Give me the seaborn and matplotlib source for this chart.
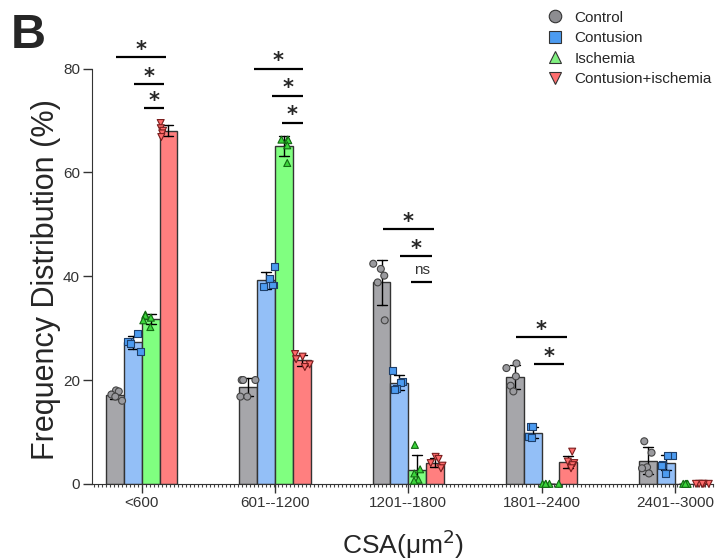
import warnings
import numpy as np
import pandas as pd
import matplotlib.pyplot as plt
from matplotlib.lines import Line2D
from matplotlib.ticker import MultipleLocator
import seaborn as sns

warnings.filterwarnings("ignore")
np.random.seed(3)  # jitter of the dots only

# Categories and groups
csa_bins = ["<600", "601--1200", "1201--1800", "1801--2400", "2401--3000"]
groups = ["Control", "Contusion", "Ischemia", "Contusion+ischemia"]

# Individual animals (n = 5) per bin
control = [
    [18.0, 17.8, 17.2, 16.8, 16.0],
    [20.0, 20.0, 20.0, 16.8, 16.8],
    [42.4, 41.4, 40.1, 38.8, 31.5],
    [23.2, 22.3, 20.7, 18.9, 17.8],
    [8.2, 6.0, 3.2, 3.0, 2.0],
]
contusion = [
    [29.0, 27.5, 27.5, 27.0, 25.5],
    [41.8, 39.5, 38.3, 38.3, 38.0],
    [21.8, 19.8, 19.6, 18.3, 18.1],
    [11.0, 11.0, 9.2, 9.2, 9.0],
    [5.4, 5.4, 3.8, 3.6, 2.0],
]
ischemia = [
    [32.6, 32.4, 32.0, 31.5, 30.2],
    [66.3, 66.3, 66.2, 65.2, 61.8],
    [7.5, 2.8, 2.0, 0.8, 0.6],
    [0.0, 0.0, 0.0, 0.0, 0.0],
    [0.0, 0.0, 0.0, 0.0, 0.0],
]
contusion_ischemia = [
    [69.5, 68.5, 68.0, 67.5, 66.8],
    [25.0, 24.5, 24.0, 23.0, 22.5],
    [5.2, 4.8, 4.0, 3.5, 3.0],
    [6.2, 4.3, 4.0, 3.6, 3.0],
    [0.0, 0.0, 0.0, 0.0, 0.0],
]

# significance brackets: (bin, left offset, right offset, y, label)
brackets = [
    (0, -0.19, 0.18, 82.3, "*"), (0, -0.06, 0.17, 77.0, "*"), (0, 0.02, 0.17, 72.3, "*"),
    (1, -0.16, 0.21, 80.0, "*"), (1, -0.02, 0.21, 74.8, "*"), (1, 0.05, 0.21, 69.6, "*"),
    (2, -0.19, 0.19, 49.1, "*"), (2, -0.06, 0.18, 43.9, "*"), (2, 0.02, 0.18, 38.9, "ns"),
    (3, -0.19, 0.19, 28.3, "*"), (3, -0.06, 0.17, 23.1, "*"),
]

rows = []
for g, vals in zip(groups, [control, contusion, ischemia, contusion_ischemia]):
    for b, v in zip(csa_bins, vals):
        for x in v:
            rows.append({"csa": b, "group": g, "freq": x})
df = pd.DataFrame(rows)

# empty levels at both ends narrow the bar groups
hue_order = ["pad_l"] + groups + ["pad_r"]
bar_pal = {"pad_l": "w", "Control": "#A6A6AA", "Contusion": "#93BFF7",
           "Ischemia": "#80FF80", "Contusion+ischemia": "#FF7F7F", "pad_r": "w"}
dot_pal = {"pad_l": "w", "Control": "#9A9A9E", "Contusion": "#4C9BF0",
           "Ischemia": "#3CD63C", "Contusion+ischemia": "#FF6B6B", "pad_r": "w"}
dot_edge = {"Control": "#444444", "Contusion": "#1E3F6A",
            "Ischemia": "#136A13", "Contusion+ischemia": "#7A1E1E"}
markers = {"Control": "o", "Contusion": "s", "Ischemia": "^", "Contusion+ischemia": "v"}

sns.set_style("ticks")
plt.rcParams["font.family"] = ["Liberation Sans", "DejaVu Sans"]

fig = plt.figure(figsize=(7.17, 5.6), dpi=100)
ax = fig.add_axes([0.128, 0.136, 0.867, 0.788])

sns.barplot(data=df, x="csa", y="freq", hue="group", order=csa_bins,
            hue_order=hue_order, palette=bar_pal, width=0.8, saturation=1,
            errorbar="sd", capsize=0.45, err_kws={"linewidth": 1, "color": "black"},
            edgecolor="#333333", linewidth=1, legend=False, ax=ax)

for g in groups:
    sns.stripplot(data=df[df["group"] == g], x="csa", y="freq", hue="group",
                  order=csa_bins, hue_order=hue_order, palette=dot_pal, dodge=True,
                  jitter=0.4, marker=markers[g], size=5, edgecolor=dot_edge[g],
                  linewidth=0.8, legend=False, ax=ax)

# dots at zero sit on the axis line, keep them whole
for coll in ax.collections:
    if len(coll.get_offsets()) > 0:
        coll.set_clip_on(False)
        coll.set_zorder(3)
    else:
        coll.set_visible(False)

# significance brackets
for b, x0, x1, y, lab in brackets:
    ax.plot([b + x0, b + x1], [y, y], color="black", lw=1.6, solid_capstyle="butt")
    if lab == "*":
        ax.text(b + (x0 + x1) / 2, y + 0.2, "*", ha="center", va="baseline",
                fontsize=15, fontweight="bold", family="DejaVu Sans")
    else:
        ax.text(b + (x0 + x1) / 2, y + 1.0, lab, ha="center", va="bottom",
                fontsize=11, color="#333333")

ax.set_ylim(0, 85)
ax.set_xlim(-0.375, 4.29)
ax.set_yticks([0, 20, 40, 60, 80])
ax.xaxis.set_minor_locator(MultipleLocator(0.03))
ax.tick_params(axis="both", which="major", labelsize=11, labelcolor="#333333",
               length=6.5, width=1, color="#333333", pad=2)
ax.tick_params(axis="x", which="minor", length=2.5, width=0.8, color="#444444")
sns.despine(ax=ax)
ax.spines["left"].set_bounds(0, 80)
ax.spines["left"].set_color("#333333")
ax.spines["bottom"].set_color("#333333")
ax.set_xlabel("CSA(\u03bcm$^2$)", fontsize=19, labelpad=13)
ax.set_ylabel("Frequency Distribution (%)", fontsize=22)
ax.yaxis.set_label_coords(-0.05, 0.463)

handles = [Line2D([], [], ls="none", marker=markers[g], markersize=9,
                  markerfacecolor=c, markeredgecolor="#333333", markeredgewidth=0.8)
           for g, c in zip(groups, ["#8D8D91", "#4C9BF0", "#80F080", "#FF6F6F"])]
fig.legend(handles, groups, loc="upper left", bbox_to_anchor=(0.748, 1.0),
           frameon=False, fontsize=11, handlelength=1.0, handletextpad=0.8,
           labelspacing=0.42, borderaxespad=0.3)

fig.text(0.015, 0.977, "B", fontsize=35, fontweight="bold", va="top", ha="left")

fig.savefig("out.png", dpi=100)
